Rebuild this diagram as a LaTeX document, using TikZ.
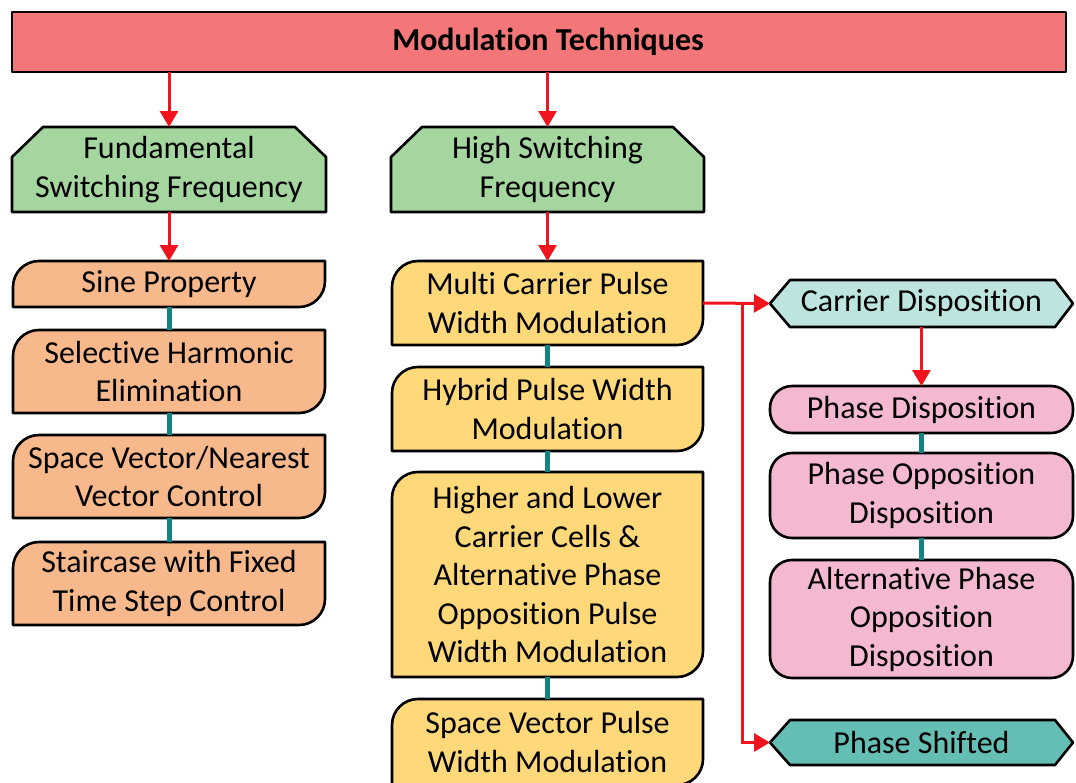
\documentclass[tikz,border=0pt]{standalone}
\usepackage{fontspec}
\setmainfont{Carlito}[Ligatures=CommonOff]
\usepackage{xcolor}
\usetikzlibrary{arrows.meta,backgrounds}

\definecolor{barred}{RGB}{243,118,120}
\definecolor{greenfill}{RGB}{166,214,160}
\definecolor{orangefill}{RGB}{247,185,140}
\definecolor{yellowfill}{RGB}{255,216,122}
\definecolor{pinkfill}{RGB}{244,184,208}
\definecolor{cyanfill}{RGB}{190,228,224}
\definecolor{tealfill}{RGB}{100,190,180}
\definecolor{linkteal}{RGB}{20,130,128}
\definecolor{linkred}{RGB}{240,20,30}

\tikzset{
    box/.style={draw=none, outer sep=0pt, inner sep=2pt, align=center,
        font=\fontsize{32}{38.5}\selectfont},
    boxline/.style={draw=black, line width=2.6pt, line join=round},
    titlebox/.style={box, boxline, fill=barred},
    pinkbox/.style={box, boxline, fill=pinkfill, rounded corners=22pt},
    redarrow/.style={draw=linkred, line width=3pt,
        -{Triangle[length=16pt, width=18pt]}},
    tealline/.style={draw=linkteal, line width=5pt}
}

% outline with rounded top left and bottom right corners
\newcommand{\rdbox}[2]{%
    \begin{pgfonlayer}{background}
        \draw[boxline, fill=#2] (#1.south west) -- ([yshift=-26pt]#1.north west)
            .. controls ([yshift=-11.6pt]#1.north west) and ([xshift=11.6pt]#1.north west)
            .. ([xshift=26pt]#1.north west)
            -- (#1.north east) -- ([yshift=26pt]#1.south east)
            .. controls ([yshift=11.6pt]#1.south east) and ([xshift=-11.6pt]#1.south east)
            .. ([xshift=-26pt]#1.south east) -- cycle;
    \end{pgfonlayer}}
% outline with cut top corners
\newcommand{\chambox}[2]{%
    \begin{pgfonlayer}{background}
        \draw[boxline, fill=#2] (#1.south west) -- ([yshift=-30pt]#1.north west)
            -- ([xshift=31pt]#1.north west) -- ([xshift=-31pt]#1.north east)
            -- ([yshift=-30pt]#1.north east) -- (#1.south east) -- cycle;
    \end{pgfonlayer}}
% hexagon outline
\newcommand{\hexbox}[2]{%
    \begin{pgfonlayer}{background}
        \draw[boxline, fill=#2] (#1.west) -- ([xshift=20pt]#1.north west)
            -- ([xshift=-18pt]#1.north east) -- (#1.east)
            -- ([xshift=-18pt]#1.south east) -- ([xshift=20pt]#1.south west) -- cycle;
    \end{pgfonlayer}}

\begin{document}
\begin{tikzpicture}[x=1pt, y=-1pt]
    \useasboundingbox (0,0) rectangle (1076,782);
    \clip (0,0) rectangle (1076,782);

    \node[titlebox, minimum width=1054pt, minimum height=60pt] (mt) at (539,42)
        {\hspace{18pt}\bfseries Modulation Techniques};

    % switching frequency
    \node[box, minimum width=314pt, minimum height=85pt] (fsf) at (169,169.5)
        {Fundamental\\Switching Frequency};
    \chambox{fsf}{greenfill}
    \node[box, minimum width=313pt, minimum height=85pt] (hsf) at (547.5,169.5)
        {High Switching\\Frequency};
    \chambox{hsf}{greenfill}

    % fundamental column
    \node[box, minimum width=312pt, minimum height=46pt] (sp) at (169,284)
        {Sine Property};
    \rdbox{sp}{orangefill}
    \node[box, minimum width=312pt, minimum height=83pt] (she) at (169,371.5)
        {Selective Harmonic\\Elimination};
    \rdbox{she}{orangefill}
    \node[box, minimum width=312pt, minimum height=83pt] (svc) at (169,476.5)
        {Space Vector/Nearest\\Vector Control};
    \rdbox{svc}{orangefill}
    \node[box, minimum width=312pt, minimum height=83pt] (stc) at (169,583.5)
        {Staircase with Fixed\\Time Step Control};
    \rdbox{stc}{orangefill}

    % high switching column
    \node[box, minimum width=311pt, minimum height=84pt] (mcp) at (547.5,303)
        {Multi Carrier Pulse\\Width Modulation};
    \rdbox{mcp}{yellowfill}
    \node[box, minimum width=311pt, minimum height=84pt] (hpw) at (547.5,409)
        {Hybrid Pulse Width\\Modulation};
    \rdbox{hpw}{yellowfill}
    \node[box, minimum width=311pt, minimum height=205pt] (hlc) at (547.5,574.5)
        {Higher and Lower\\Carrier Cells \&\\Alternative Phase\\Opposition Pulse\\Width Modulation};
    \rdbox{hlc}{yellowfill}
    \node[box, minimum width=311pt, minimum height=86pt] (svp) at (547.5,742)
        {Space Vector Pulse\\Width Modulation};
    \rdbox{svp}{yellowfill}

    % carrier column
    \node[box, minimum width=303pt, minimum height=47pt] (cd) at (921.5,303.5)
        {Carrier Disposition};
    \hexbox{cd}{cyanfill}
    \node[pinkbox, minimum width=303pt, minimum height=47pt] (pd) at (921.5,409.5)
        {Phase Disposition};
    \node[pinkbox, minimum width=303pt, minimum height=85pt] (pod) at (921.5,495.5)
        {Phase Opposition\\Disposition};
    \node[pinkbox, minimum width=303pt, minimum height=118pt] (apod) at (921.5,619)
        {Alternative Phase\\Opposition\\Disposition};
    \node[box, minimum width=303pt, minimum height=45pt] (ps) at (921.5,742.5)
        {Phase Shifted};
    \hexbox{ps}{tealfill}

    % links
    \draw[redarrow] (mt.south -| fsf.north) -- (fsf.north);
    \draw[redarrow] (mt.south -| hsf.north) -- (hsf.north);
    \draw[redarrow] (fsf.south) -- (sp.north);
    \draw[redarrow] (hsf.south) -- (mcp.north);
    \draw[redarrow] (mcp.east) -- (cd.west);
    \coordinate (split) at (742,303);
    \draw[redarrow] (split) |- (ps.west);
    \draw[redarrow] (cd.south) -- (pd.north);
    \foreach \a/\b in {sp/she, she/svc, svc/stc, mcp/hpw, hpw/hlc, hlc/svp, pd/pod, pod/apod}
        \draw[tealline] (\a.south) -- (\b.north);
\end{tikzpicture}
\end{document}
